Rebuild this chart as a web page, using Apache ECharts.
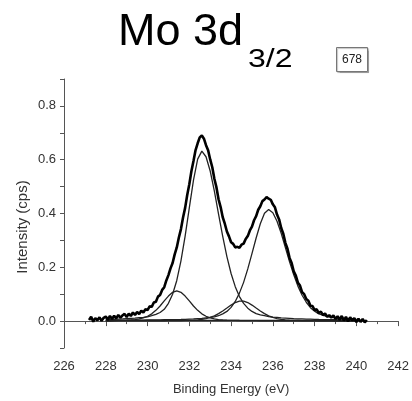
<!DOCTYPE html>
<html>
<head>
<meta charset="utf-8">
<title>Mo 3d3/2</title>
<script src="https://cdn.jsdelivr.net/npm/echarts@6/dist/echarts.min.js"></script>
<style>
  html, body { margin: 0; padding: 0; background: #fff; }
  #main { width: 412px; height: 401px; }
</style>
</head>
<body>
<div id="main"></div>
<script>
// axis ticks
var xTicks = [226, 228, 230, 232, 234, 236, 238, 240, 242];
var yTickLabels = ['0.0', '0.2', '0.4', '0.6', '0.8'];

// fitted components, sampled every 0.2 eV
var fitEnergy = [
  228.0, 228.2, 228.4, 228.6, 228.8, 229.0, 229.2, 229.4, 229.6, 229.8,
  230.0, 230.2, 230.4, 230.6, 230.8, 231.0, 231.2, 231.4, 231.6, 231.8,
  232.0, 232.2, 232.4, 232.6, 232.8, 233.0, 233.2, 233.4, 233.6, 233.8,
  234.0, 234.2, 234.4, 234.6, 234.8, 235.0, 235.2, 235.4, 235.6, 235.8,
  236.0, 236.2, 236.4, 236.6, 236.8, 237.0, 237.2, 237.4, 237.6, 237.8,
  238.0, 238.2, 238.4, 238.6, 238.8, 239.0, 239.2, 239.4, 239.6, 239.8,
  240.0
];
var peakMain1 = [
  0.0057, 0.0061, 0.0066, 0.0073, 0.008, 0.009, 0.010, 0.011, 0.013, 0.014,
  0.016, 0.020, 0.025, 0.032, 0.044, 0.066, 0.100, 0.151, 0.224, 0.316,
  0.421, 0.524, 0.602, 0.632, 0.611, 0.558, 0.483, 0.398, 0.315, 0.240,
  0.177, 0.128, 0.091, 0.066, 0.048, 0.036, 0.028, 0.023, 0.020, 0.017,
  0.015, 0.014, 0.012, 0.011, 0.010, 0.009, 0.0085, 0.008, 0.0075, 0.007,
  0.0065, 0.006, 0.0058, 0.0055, 0.0052, 0.005, 0.0048, 0.0046, 0.0044, 0.0042,
  0.004
];
var peakMain2 = [
  0.0025, 0.0026, 0.0027, 0.0028, 0.003, 0.0031, 0.0033, 0.0035, 0.0036, 0.0038,
  0.004, 0.0042, 0.0045, 0.0047, 0.005, 0.0052, 0.0055, 0.0058, 0.006, 0.0066,
  0.0073, 0.008, 0.009, 0.010, 0.012, 0.014, 0.016, 0.020, 0.027, 0.036,
  0.051, 0.073, 0.104, 0.144, 0.194, 0.251, 0.309, 0.362, 0.401, 0.415,
  0.403, 0.371, 0.326, 0.273, 0.220, 0.172, 0.130, 0.096, 0.070, 0.050,
  0.037, 0.027, 0.022, 0.017, 0.015, 0.012, 0.011, 0.010, 0.009, 0.008,
  0.0073
];
var peakSmall1 = [
  0.0018, 0.002, 0.0022, 0.0025, 0.0029, 0.0035, 0.0044, 0.0057, 0.008, 0.012,
  0.018, 0.027, 0.040, 0.056, 0.075, 0.093, 0.107, 0.112, 0.107, 0.093,
  0.075, 0.056, 0.040, 0.027, 0.018, 0.012, 0.008, 0.0057, 0.0044, 0.0035,
  0.0029, 0.0025, 0.0022, 0.002, 0.0018, 0.0016, 0.0015, 0.0013, 0.0012, 0.0011,
  0.001, 0.0009, 0.0009, 0.0008, 0.0008, 0.0007, 0.0007, 0.0007, 0.0006, 0.0006,
  0.0006, 0.0005, 0.0005, 0.0005, 0.0005, 0.0004, 0.0004, 0.0004, 0.0004, 0.0004,
  0.0003
];
var peakSmall2 = [
  0.0004, 0.0004, 0.0005, 0.0005, 0.0005, 0.0006, 0.0006, 0.0007, 0.0007, 0.0008,
  0.0009, 0.0009, 0.001, 0.0011, 0.0013, 0.0014, 0.0016, 0.0017, 0.002, 0.0024,
  0.0028, 0.0035, 0.0047, 0.0065, 0.0094, 0.0136, 0.0197, 0.0277, 0.0375, 0.0485,
  0.0596, 0.0689, 0.0743, 0.0743, 0.0689, 0.0596, 0.0485, 0.0375, 0.0277, 0.0197,
  0.0136, 0.0094, 0.0065, 0.0047, 0.0035, 0.0028, 0.0024, 0.002, 0.0017, 0.0016,
  0.0014, 0.0013, 0.0011, 0.001, 0.0009, 0.0009, 0.0008, 0.0007, 0.0007, 0.0006,
  0.0006
];
var baselineEnergy = [228.0, 240.0];
var baselineValue = [0.003, 0.003];

// measured spectrum [energy, intensity]
var envelope = [
  [227.2,0.004],[227.3,0.016],[227.4,-0.002],[227.5,0.011],[227.6,0.003],[227.7,0.014],[227.8,0.001],[227.9,0.012],[228.0,0.017],[228.1,0.005],
  [228.2,0.019],[228.3,0.008],[228.4,0.020],[228.5,0.010],[228.6,0.023],[228.7,0.012],[228.8,0.021],[228.9,0.027],[229.0,0.015],[229.1,0.028],
  [229.2,0.019],[229.3,0.032],[229.4,0.023],[229.5,0.034],[229.6,0.026],[229.7,0.039],[229.8,0.032],[229.9,0.044],[230.0,0.041],[230.1,0.055],
  [230.2,0.053],[230.3,0.069],[230.4,0.072],[230.5,0.091],[230.6,0.097],[230.7,0.116],[230.8,0.126],[230.9,0.151],[231.0,0.171],[231.1,0.196],
  [231.2,0.216],[231.3,0.248],[231.4,0.274],[231.5,0.311],[231.6,0.342],[231.7,0.385],[231.8,0.421],[231.9,0.469],[232.0,0.509],[232.1,0.557],
  [232.2,0.595],[232.3,0.636],[232.4,0.661],[232.5,0.683],[232.6,0.690],[232.7,0.678],[232.8,0.654],[232.9,0.635],[233.0,0.601],[233.1,0.572],
  [233.2,0.529],[233.3,0.497],[233.4,0.453],[233.5,0.424],[233.6,0.386],[233.7,0.362],[233.8,0.333],[233.9,0.315],[234.0,0.293],[234.1,0.287],
  [234.2,0.274],[234.3,0.276],[234.4,0.273],[234.5,0.284],[234.6,0.288],[234.7,0.305],[234.8,0.316],[234.9,0.337],[235.0,0.351],[235.1,0.375],
  [235.2,0.390],[235.3,0.414],[235.4,0.427],[235.5,0.446],[235.6,0.452],[235.7,0.461],[235.8,0.455],[235.9,0.451],[236.0,0.434],[236.1,0.423],
  [236.2,0.396],[236.3,0.378],[236.4,0.346],[236.5,0.325],[236.6,0.291],[236.7,0.269],[236.8,0.235],[236.9,0.216],[237.0,0.185],[237.1,0.169],
  [237.2,0.143],[237.3,0.132],[237.4,0.108],[237.5,0.100],[237.6,0.082],[237.7,0.076],[237.8,0.057],[237.9,0.056],[238.0,0.041],[238.1,0.044],
  [238.2,0.030],[238.3,0.035],[238.4,0.022],[238.5,0.028],[238.6,0.016],[238.7,0.022],[238.8,0.013],[238.9,0.021],[239.0,0.008],[239.1,0.018],
  [239.2,0.005],[239.3,0.019],[239.4,0.002],[239.5,0.016],[239.6,-0.001],[239.7,0.014],[239.8,0.003],[239.9,0.011],[240.0,-0.004],[240.1,0.009],
  [240.2,-0.003],[240.3,0.008],[240.4,-0.005],[240.5,0.004]
];

function pairs(xs, ys) {
  return xs.map(function (x, i) { return [x, ys[i]]; });
}

function thinLine(data) {
  return {
    type: 'line', data: data, showSymbol: false, smooth: false,
    lineStyle: { color: '#222', width: 1.3 }, z: 2
  };
}

var axisColor = '#555';
var font = 'Arial, "Liberation Sans", sans-serif';

var myChart = echarts.init(document.getElementById('main'));
var option = {
  animation: false,
  grid: { left: 64, right: 12, top: 79, bottom: 49 },
  xAxis: {
    type: 'value', min: xTicks[0], max: xTicks[xTicks.length - 1], interval: 2,
    axisLine: { lineStyle: { color: axisColor, width: 1 } },
    axisTick: { length: 5, lineStyle: { color: axisColor } },
    minorTick: { show: true, splitNumber: 2, length: 3, lineStyle: { color: axisColor } },
    splitLine: { show: false },
    axisLabel: { color: '#333', fontSize: 13, fontFamily: font, margin: 12 },
    name: 'Binding Energy (eV)', nameLocation: 'middle', nameGap: 35,
    nameTextStyle: { color: '#333', fontSize: 13, fontFamily: font }
  },
  yAxis: {
    type: 'value', min: -0.1, max: 0.9, interval: 0.1,
    axisLine: { show: true, lineStyle: { color: axisColor, width: 1 } },
    axisTick: { show: true, length: 4, lineStyle: { color: axisColor } },
    splitLine: { show: false },
    axisLabel: {
      color: '#333', fontSize: 13, fontFamily: font, margin: 8,
      formatter: function (v) {
        var s = v.toFixed(1);
        return yTickLabels.indexOf(s) >= 0 ? s : '';
      }
    }
  },
  graphic: [
    { type: 'text', x: 118, y: 33,
      style: { text: 'Mo 3d', font: '45px Arial, "Liberation Sans"', fill: '#000', verticalAlign: 'middle' } },
    { type: 'text', x: 248, y: 60, scaleX: 1.28,
      style: { text: '3/2', font: '25px Arial, "Liberation Sans"', fill: '#000', verticalAlign: 'middle' } },
    { type: 'rect', shape: { x: 336.5, y: 47.5, width: 31, height: 24 },
      style: { fill: '#fff', stroke: '#777', lineWidth: 1, shadowColor: 'rgba(0,0,0,0.25)', shadowOffsetX: 1, shadowOffsetY: 1, shadowBlur: 1 } },
    { type: 'text', x: 352, y: 60,
      style: { text: '678', font: '12px Arial, "Liberation Sans"', fill: '#222', align: 'center', verticalAlign: 'middle' } },
    { type: 'text', x: 23, y: 227, rotation: Math.PI / 2,
      style: { text: 'Intensity (cps)', font: '15px Arial, "Liberation Sans"', fill: '#333', align: 'center', verticalAlign: 'middle' } }
  ],
  series: [
    thinLine(pairs(baselineEnergy, baselineValue)),
    thinLine(pairs(fitEnergy, peakSmall1)),
    thinLine(pairs(fitEnergy, peakSmall2)),
    thinLine(pairs(fitEnergy, peakMain1)),
    thinLine(pairs(fitEnergy, peakMain2)),
    {
      type: 'line', data: envelope, showSymbol: false,
      lineStyle: { color: '#000', width: 2.6 }, z: 3
    }
  ]
};
myChart.setOption(option);
</script>
</body>
</html>
